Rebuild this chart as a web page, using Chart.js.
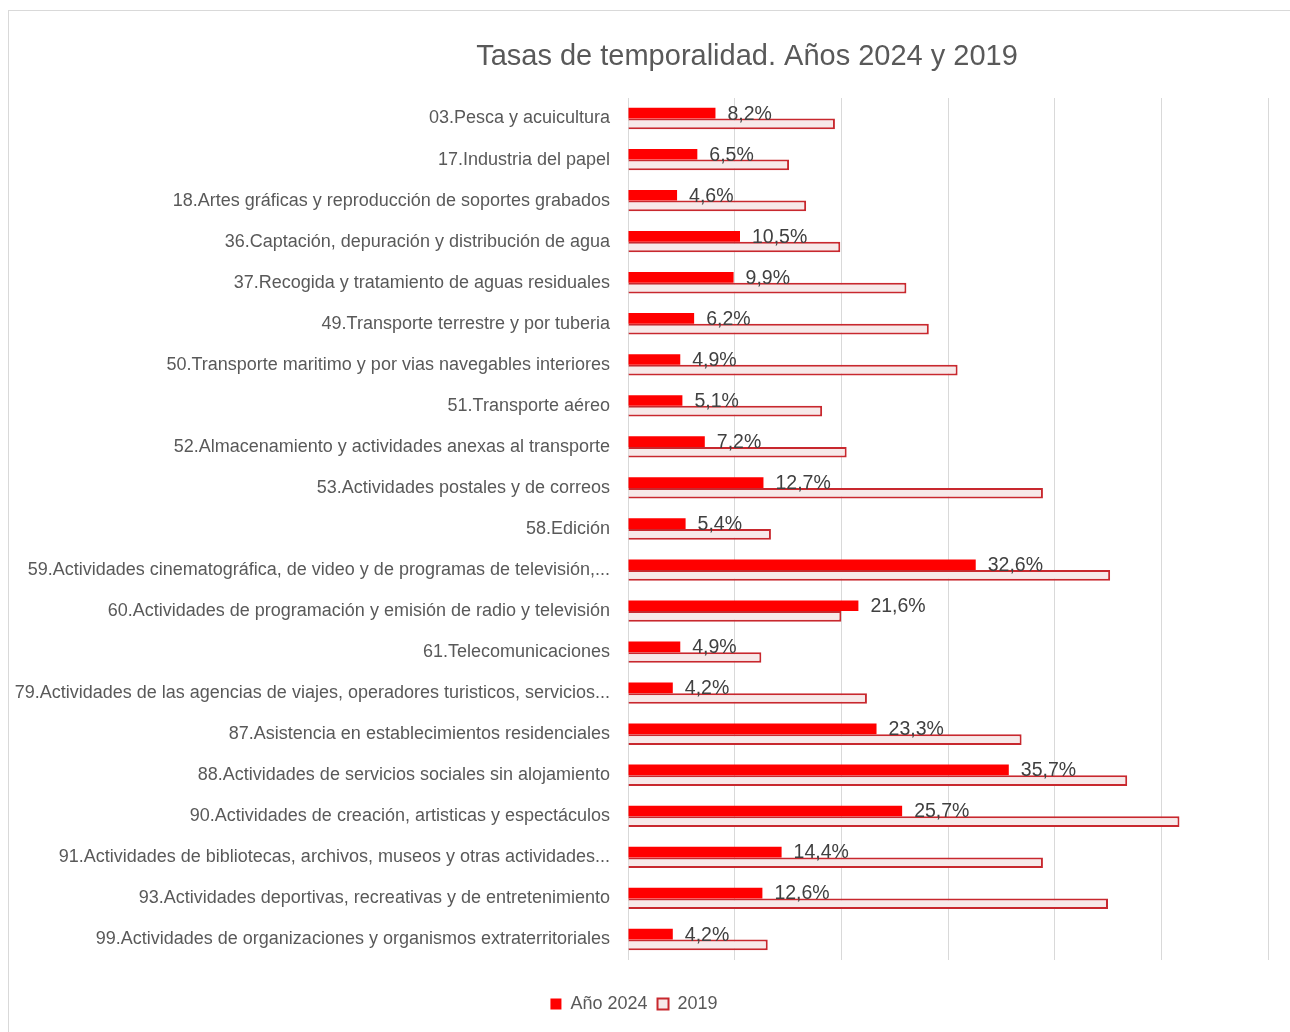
<!DOCTYPE html>
<html>
<head>
<meta charset="utf-8">
<script src="https://cdn.jsdelivr.net/npm/chart.js@4"></script>
<style>
  html, body { margin: 0; padding: 0; background: #ffffff; }
  #wrap { position: absolute; left: 0; top: 0; width: 1290px; height: 1032px; }
</style>
</head>
<body>
<div id="wrap"><canvas id="tasas"></canvas></div>
<script>
var chart_title = 'Tasas de temporalidad. Años 2024 y 2019';

var categorias = [
    '03.Pesca y acuicultura',
    '17.Industria del papel',
    '18.Artes gráficas y reproducción de soportes grabados',
    '36.Captación, depuración y distribución de agua',
    '37.Recogida y tratamiento de aguas residuales',
    '49.Transporte terrestre y por tuberia',
    '50.Transporte maritimo y por vias navegables interiores',
    '51.Transporte aéreo',
    '52.Almacenamiento y actividades anexas al transporte',
    '53.Actividades postales y de correos',
    '58.Edición',
    '59.Actividades cinematográfica, de video y de programas de televisión,...',
    '60.Actividades de programación y emisión de radio y televisión',
    '61.Telecomunicaciones',
    '79.Actividades de las agencias de viajes, operadores turisticos, servicios...',
    '87.Asistencia en establecimientos residenciales',
    '88.Actividades de servicios sociales sin alojamiento',
    '90.Actividades de creación, artisticas y espectáculos',
    '91.Actividades de bibliotecas, archivos, museos y otras actividades...',
    '93.Actividades deportivas, recreativas y de entretenimiento',
    '99.Actividades de organizaciones y organismos extraterritoriales'
];

var serie_2024 = [8.2, 6.5, 4.6, 10.5, 9.9, 6.2, 4.9, 5.1, 7.2, 12.7, 5.4, 32.6, 21.6, 4.9, 4.2, 23.3, 35.7, 25.7, 14.4, 12.6, 4.2];
var serie_2019 = [19.4, 15.1, 16.7, 19.9, 26.1, 28.2, 30.9, 18.2, 20.5, 38.9, 13.4, 45.2, 20.0, 12.5, 22.4, 36.9, 46.8, 51.7, 38.9, 45.0, 13.1];

var etiquetas_series = ['Año 2024', '2019'];

var font_narrow = "'Liberation Sans Narrow', 'Arial Narrow', 'Liberation Sans', sans-serif";
var gris_texto = '#595959';

// marco gris y titulo
var marco_plugin = {
    id: 'marco',
    beforeDraw: function (chart) {
        var ctx = chart.ctx;
        ctx.save();
        ctx.fillStyle = '#ffffff';
        ctx.fillRect(0, 0, chart.width, chart.height);
        ctx.strokeStyle = '#d9d9d9';
        ctx.lineWidth = 1;
        ctx.strokeRect(8.5, 10.5, chart.width + 20, chart.height + 20);
        ctx.fillStyle = gris_texto;
        ctx.font = '29px ' + font_narrow;
        ctx.textAlign = 'center';
        ctx.textBaseline = 'middle';
        ctx.fillText(chart_title, 747, 57);
        ctx.restore();
    }
};

// etiquetas de valor en las barras de 2024
var valores_plugin = {
    id: 'valores',
    afterDatasetsDraw: function (chart) {
        var ctx = chart.ctx;
        var meta = chart.getDatasetMeta(0);
        ctx.save();
        ctx.fillStyle = '#404040';
        ctx.font = '19.5px ' + font_narrow;
        ctx.textAlign = 'left';
        ctx.textBaseline = 'middle';
        for (var i = 0; i < meta.data.length; i++) {
            var bar = meta.data[i];
            var txt = serie_2024[i].toFixed(1).replace('.', ',') + '%';
            ctx.fillText(txt, bar.x + 12, bar.y + 1);
        }
        ctx.restore();
    }
};

function bar_data(labels, data_a, data_b) {
    return {
        labels: labels,
        datasets: [{
                label: etiquetas_series[0],
                data: data_a,
                backgroundColor: '#ff0000',
                borderColor: '#e00000',
                borderWidth: 0,
                barPercentage: 1.0,
                categoryPercentage: 0.52
            },
            {
                label: etiquetas_series[1],
                data: data_b,
                backgroundColor: '#f7e9e9',
                borderColor: '#c8282e',
                borderWidth: 2,
                barPercentage: 1.0,
                categoryPercentage: 0.52
            }
        ]
    };
}

var chart_option = {
    indexAxis: 'y',
    responsive: false,
    animation: false,
    layout: {
        padding: { top: 98, left: 0, right: 22, bottom: 9 }
    },
    scales: {
        x: {
            min: 0,
            max: 60,
            ticks: { display: false, stepSize: 10 },
            grid: { color: '#d9d9d9', drawTicks: false, lineWidth: 1 },
            border: { display: false },
            afterFit: function (scale) { scale.height = 25; }
        },
        y: {
            ticks: {
                autoSkip: false,
                color: gris_texto,
                padding: 18,
                font: { size: 18, family: font_narrow }
            },
            grid: { display: false, drawTicks: false },
            border: { display: false },
            afterFit: function (scale) { scale.width = 628; }
        }
    },
    plugins: {
        legend: {
            position: 'bottom',
            labels: {
                color: gris_texto,
                boxWidth: 11,
                boxHeight: 11,
                padding: 10,
                font: { size: 18, family: font_narrow }
            }
        },
        tooltip: { enabled: false },
        title: { display: false }
    }
};

function draw_bars(EleID) {
    var canvas = document.getElementById(EleID);
    canvas.width = 1290;
    canvas.height = 1032;
    var ctx = canvas.getContext('2d');
    var config = {
        type: 'bar',
        data: bar_data(categorias, serie_2024, serie_2019),
        options: chart_option,
        plugins: [marco_plugin, valores_plugin]
    };
    return new Chart(ctx, config);
}

draw_bars('tasas');
</script>
</body>
</html>
